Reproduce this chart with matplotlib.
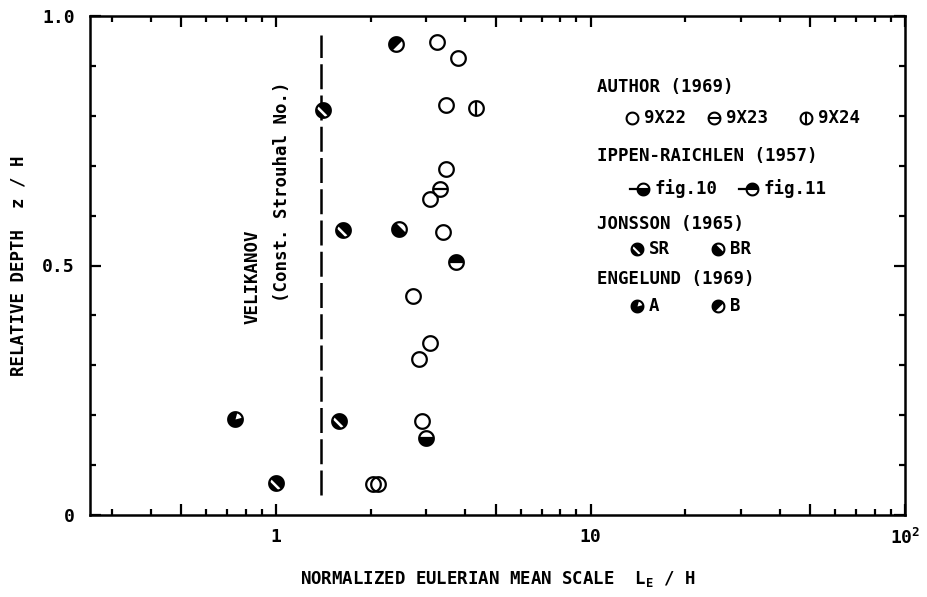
import numpy as np
import matplotlib
matplotlib.use("Agg")
import matplotlib.pyplot as plt
from matplotlib.path import Path
from matplotlib.ticker import FixedLocator, FixedFormatter, NullFormatter

plt.rcParams['font.family'] = ['DejaVu Sans Mono']
plt.rcParams['font.weight'] = 'bold'
plt.rcParams['axes.labelweight'] = 'bold'
plt.rcParams['mathtext.fontset'] = 'custom'
plt.rcParams['mathtext.rm'] = 'DejaVu Sans Mono:bold'
plt.rcParams['mathtext.it'] = 'DejaVu Sans Mono:bold'
plt.rcParams['mathtext.bf'] = 'DejaVu Sans Mono:bold'

# --- data (L_E/H, z/H) ---
author_9x22_x = [3.24, 3.78, 3.46, 3.46, 3.08, 3.39, 2.72, 3.08, 2.84, 2.91, 2.03, 2.11]
author_9x22_y = [0.948, 0.916, 0.822, 0.693, 0.633, 0.567, 0.439, 0.345, 0.313, 0.188, 0.062, 0.062]
author_9x23_x = [3.32]
author_9x23_y = [0.653]
author_9x24_x = [4.31]
author_9x24_y = [0.816]
ippen_fig10_x = [2.99]
ippen_fig10_y = [0.154]
ippen_fig11_x = [3.73]
ippen_fig11_y = [0.507]
jonsson_sr_x = [1.41, 1.63, 1.58, 1.0]
jonsson_sr_y = [0.812, 0.571, 0.188, 0.064]
jonsson_br_x = [2.46]
jonsson_br_y = [0.573]
engelund_a_x = [0.741]
engelund_a_y = [0.192]
engelund_b_x = [2.40]
engelund_b_y = [0.944]

velikanov_x = 1.39
velikanov_y = [0.04, 0.962]

x_major = [0.5, 1, 5, 10, 50, 100]
x_major_labels = ['', '1', '', '10', '', r'$\mathregular{10^2}$']
x_minor = [0.3, 0.4, 0.6, 0.7, 0.8, 0.9, 2, 3, 4, 6, 7, 8, 9, 20, 30, 40, 60, 70, 80, 90]
y_major = [0, 0.5, 1.0]
y_major_labels = ['0', '0.5', '1.0']
y_minor = [0.1, 0.2, 0.3, 0.4, 0.6, 0.7, 0.8, 0.9]


# --- marker shapes (unit circle based) ---
def arc_pts(a1, a2, n=40):
    t = np.radians(np.linspace(a1, a2, n))
    return np.column_stack([np.cos(t), np.sin(t)])


def poly(verts):
    # leading MOVETO at (1,1) keeps every shape on the same scale as the circle
    verts = np.vstack([[1.0, 1.0], verts, verts[:1]])
    codes = [Path.MOVETO, Path.MOVETO] + [Path.LINETO] * (len(verts) - 3) + [Path.CLOSEPOLY]
    return Path(verts, codes)


def band(phi, d1, d2):
    a1 = np.degrees(np.arccos(d1))
    a2 = np.degrees(np.arccos(d2))
    return poly(np.vstack([arc_pts(phi + a1, phi + a2), arc_pts(phi - a2, phi - a1)]))


def wedge(a1, a2):
    return poly(np.vstack([[0, 0], arc_pts(a1, a2)]))


CIRCLE = poly(arc_pts(0, 360, 97)[:-1])
HLINE = Path([(-1, 0), (1, 0)], [Path.MOVETO, Path.LINETO])
VLINE = Path([(0, -1), (0, 1)], [Path.MOVETO, Path.LINETO])

KINDS = {
    '9X22': ('white', None, []),
    '9X23': ('white', None, [HLINE]),
    '9X24': ('white', None, [VLINE]),
    'fig10': ('white', (band(270, 0, 1), 'black'), [HLINE]),
    'fig11': ('white', (band(90, 0, 1), 'black'), [HLINE]),
    'SR': ('black', (band(45, -0.45, -0.1), 'white'), []),
    'BR': ('black', (band(45, 0.3, 1), 'white'), []),
    'A': ('black', (wedge(15, 75), 'white'), []),
    'B': ('black', (band(315, 0.2, 1), 'white'), []),
}


def draw_marker(ax, x, y, kind, ms, mew):
    base, over, lines = KINDS[kind]
    ax.plot(x, y, ls='none', marker=CIRCLE, ms=ms, mfc=base, mec='none', zorder=3)
    if over is not None:
        ax.plot(x, y, ls='none', marker=over[0], ms=ms, mfc=over[1], mec='none', zorder=4)
    for ln in lines:
        ax.plot(x, y, ls='none', marker=ln, ms=ms, mfc='none', mec='black', mew=mew, zorder=5)
    ax.plot(x, y, ls='none', marker=CIRCLE, ms=ms, mfc='none', mec='black', mew=mew, zorder=6)


fig = plt.figure(figsize=(9.27, 5.97), dpi=100)
ax = fig.add_axes([90 / 927, 82 / 597, 815 / 927, 499 / 597])

ax.plot([velikanov_x, velikanov_x], velikanov_y, color='black', lw=1.8, dashes=(10, 2.5))

series = [
    (author_9x22_x, author_9x22_y, '9X22'),
    (author_9x23_x, author_9x23_y, '9X23'),
    (author_9x24_x, author_9x24_y, '9X24'),
    (ippen_fig10_x, ippen_fig10_y, 'fig10'),
    (ippen_fig11_x, ippen_fig11_y, 'fig11'),
    (jonsson_sr_x, jonsson_sr_y, 'SR'),
    (jonsson_br_x, jonsson_br_y, 'BR'),
    (engelund_a_x, engelund_a_y, 'A'),
    (engelund_b_x, engelund_b_y, 'B'),
]
for xs, ys, kind in series:
    draw_marker(ax, xs, ys, kind, 10.5, 1.6)

ax.text(0.839, 0.477, 'VELIKANOV', rotation=90, ha='center', va='center', fontsize=12.5)
ax.text(1.045, 0.647, '(Const. Strouhal No.)', rotation=90, ha='center', va='center', fontsize=12.5)

ax.set_xscale('log')
ax.set_xlim(0.256, 100)
ax.set_ylim(0, 1)
ax.xaxis.set_major_locator(FixedLocator(x_major))
ax.xaxis.set_major_formatter(FixedFormatter(x_major_labels))
ax.xaxis.set_minor_locator(FixedLocator(x_minor))
ax.xaxis.set_minor_formatter(NullFormatter())
ax.yaxis.set_major_locator(FixedLocator(y_major))
ax.yaxis.set_major_formatter(FixedFormatter(y_major_labels))
ax.yaxis.set_minor_locator(FixedLocator(y_minor))

ax.tick_params(which='both', direction='in', top=True, right=True, width=1.6, labelsize=13)
ax.tick_params(which='major', length=8)
ax.tick_params(which='minor', length=4.5)
ax.tick_params(axis='x', pad=9)
ax.tick_params(axis='y', pad=11)
for sp in ax.spines.values():
    sp.set_linewidth(1.8)

ax.set_xlabel(r'NORMALIZED EULERIAN MEAN SCALE  $\mathregular{L_E}$ / H', fontsize=12.5)
ax.xaxis.set_label_coords(0.5, -0.108)
ax.set_ylabel('RELATIVE DEPTH  z / H', fontsize=12.5)
ax.yaxis.set_label_coords(-0.077, 0.5)

# --- legend block drawn in pixel coordinates on an overlay ---
ov = fig.add_axes([0, 0, 1, 1], facecolor='none')
ov.set_xlim(0, 927)
ov.set_ylim(597, 0)
ov.axis('off')

headers = [('AUTHOR (1969)', 87), ('IPPEN-RAICHLEN (1957)', 156), ('JONSSON (1965)', 224), ('ENGELUND (1969)', 279)]
for txt, yy in headers:
    ov.text(597, yy, txt, ha='left', va='center', fontsize=12.5)

rows = [
    (118, [(632, '9X22', '9X22'), (714, '9X23', '9X23'), (806, '9X24', '9X24')]),
    (189, [(643, 'fig10', 'fig.10'), (752, 'fig11', 'fig.11')]),
    (249, [(637, 'SR', 'SR'), (718, 'BR', 'BR')]),
    (306, [(637, 'A', 'A'), (718, 'B', 'B')]),
]
for yy, items in rows:
    for xx, kind, label in items:
        draw_marker(ov, [xx], [yy], kind, 8.5, 1.5)
        if kind in ('fig10', 'fig11'):
            ov.plot([xx - 13, xx - 5], [yy, yy], color='black', lw=1.6)
        ov.text(xx + 12, yy, label, ha='left', va='center', fontsize=12.5)

fig.savefig('out.png', dpi=100)
